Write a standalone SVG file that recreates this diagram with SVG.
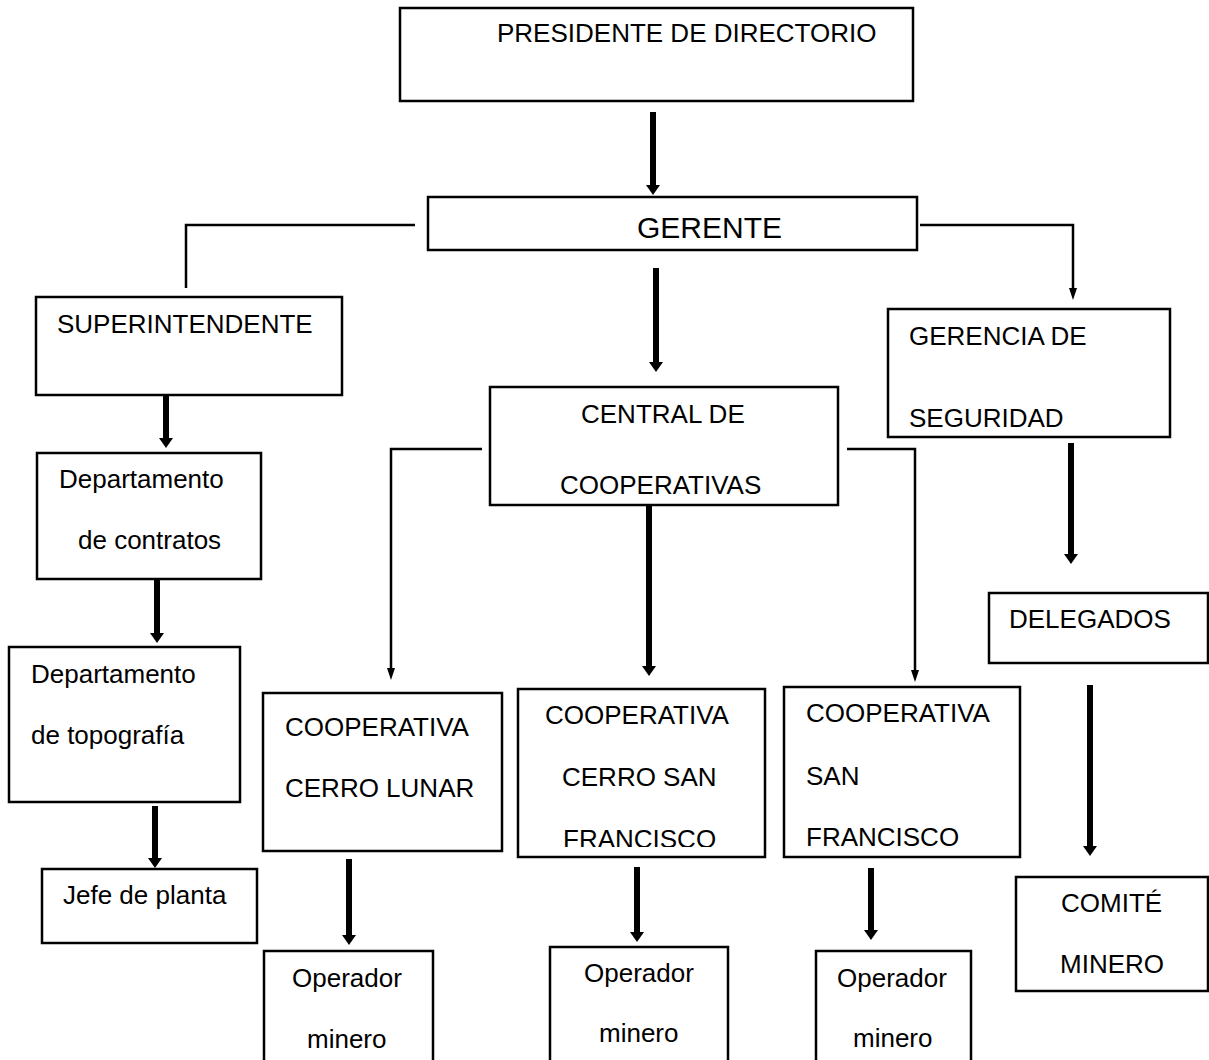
<svg xmlns="http://www.w3.org/2000/svg" width="1209" height="1060" viewBox="0 0 1209 1060">
<style>
.box{fill:#fff;stroke:#000;stroke-width:2.5}
.t{font-family:"Liberation Sans",Arial,sans-serif;font-size:26px;fill:#000}
.thick{fill:none;stroke:#000;stroke-width:6}
.thin{fill:none;stroke:#000;stroke-width:2.5}
</style>
<defs>
<marker id="ahk" markerUnits="userSpaceOnUse" viewBox="0 0 10 14" markerWidth="10" markerHeight="14" refX="0" refY="7" orient="auto"><path d="M0,0 L10,7 L0,14 Z" fill="#000"/></marker>
<marker id="aht" markerUnits="userSpaceOnUse" viewBox="0 0 12 8" markerWidth="12" markerHeight="8" refX="0" refY="4" orient="auto"><path d="M0,0 L12,4 L0,8 Z" fill="#000"/></marker>
<clipPath id="c1"><rect x="888" y="300" width="282" height="127"/></clipPath>
<clipPath id="c2"><rect x="518" y="680" width="247" height="167"/></clipPath>
<clipPath id="c3"><rect x="784" y="680" width="236" height="166"/></clipPath>
</defs>
<g id="connectors">
<line class="thick" x1="653" y1="112" x2="653" y2="185" marker-end="url(#ahk)"/>
<line class="thick" x1="656" y1="268" x2="656" y2="362" marker-end="url(#ahk)"/>
<line class="thick" x1="166" y1="390" x2="166" y2="438" marker-end="url(#ahk)"/>
<line class="thick" x1="157" y1="579" x2="157" y2="633" marker-end="url(#ahk)"/>
<line class="thick" x1="155" y1="806" x2="155" y2="858" marker-end="url(#ahk)"/>
<line class="thick" x1="649" y1="505" x2="649" y2="666" marker-end="url(#ahk)"/>
<line class="thick" x1="349" y1="859" x2="349" y2="935" marker-end="url(#ahk)"/>
<line class="thick" x1="637" y1="867" x2="637" y2="932" marker-end="url(#ahk)"/>
<line class="thick" x1="871" y1="868" x2="871" y2="930" marker-end="url(#ahk)"/>
<line class="thick" x1="1071" y1="443" x2="1071" y2="554" marker-end="url(#ahk)"/>
<line class="thick" x1="1090" y1="685" x2="1090" y2="846" marker-end="url(#ahk)"/>
<path class="thin" d="M415,225 H186 V288"/>
<path class="thin" d="M920,225 H1073 V288" marker-end="url(#aht)"/>
<path class="thin" d="M482,449 H391 V668" marker-end="url(#aht)"/>
<path class="thin" d="M847,449 H915 V670" marker-end="url(#aht)"/>
</g>
<g id="presidente"><rect class="box" x="400" y="8" width="513" height="93"/><text class="t" x="497" y="42">PRESIDENTE DE DIRECTORIO</text></g>
<g id="gerente"><rect class="box" x="428" y="197" width="489" height="53"/><text class="t" x="637" y="238" style="font-size:30px">GERENTE</text></g>
<g id="superintendente"><rect class="box" x="36" y="297" width="306" height="98"/><text class="t" x="57" y="333">SUPERINTENDENTE</text></g>
<g id="central"><rect class="box" x="490" y="387" width="348" height="118"/><text class="t" x="581" y="423">CENTRAL DE</text><text class="t" x="560" y="494">COOPERATIVAS</text></g>
<g id="gerencia"><rect class="box" x="888" y="309" width="282" height="128"/><text class="t" x="909" y="345">GERENCIA DE</text><text class="t" x="909" y="427" clip-path="url(#c1)">SEGURIDAD</text></g>
<g id="contratos"><rect class="box" x="37" y="453" width="224" height="126"/><text class="t" x="59" y="488">Departamento</text><text class="t" x="78" y="549">de contratos</text></g>
<g id="delegados"><rect class="box" x="989" y="593" width="219" height="70"/><text class="t" x="1009" y="628">DELEGADOS</text></g>
<g id="topografia"><rect class="box" x="9" y="647" width="231" height="155"/><text class="t" x="31" y="683">Departamento</text><text class="t" x="31" y="744">de topografía</text></g>
<g id="jefe"><rect class="box" x="42" y="869" width="215" height="74"/><text class="t" x="63" y="904">Jefe de planta</text></g>
<g id="cerro-lunar"><rect class="box" x="263" y="693" width="239" height="158"/><text class="t" x="285" y="736">COOPERATIVA</text><text class="t" x="285" y="797">CERRO LUNAR</text></g>
<g id="cerro-san-francisco"><rect class="box" x="518" y="689" width="247" height="168"/><text class="t" x="545" y="724">COOPERATIVA</text><text class="t" x="562" y="786">CERRO SAN</text><text class="t" x="563" y="848" clip-path="url(#c2)">FRANCISCO</text></g>
<g id="san-francisco"><rect class="box" x="784" y="687" width="236" height="170"/><text class="t" x="806" y="722">COOPERATIVA</text><text class="t" x="806" y="785">SAN</text><text class="t" x="806" y="846" clip-path="url(#c3)">FRANCISCO</text></g>
<g id="operador1"><rect class="box" x="264" y="951" width="169" height="120"/><text class="t" x="292" y="987">Operador</text><text class="t" x="307" y="1048">minero</text></g>
<g id="operador2"><rect class="box" x="550" y="947" width="178" height="120"/><text class="t" x="584" y="982">Operador</text><text class="t" x="599" y="1042">minero</text></g>
<g id="operador3"><rect class="box" x="816" y="951" width="155" height="120"/><text class="t" x="837" y="987">Operador</text><text class="t" x="853" y="1047">minero</text></g>
<g id="comite"><rect class="box" x="1016" y="877" width="192" height="114"/><text class="t" x="1061" y="912">COMITÉ</text><text class="t" x="1060" y="973">MINERO</text></g>
</svg>
